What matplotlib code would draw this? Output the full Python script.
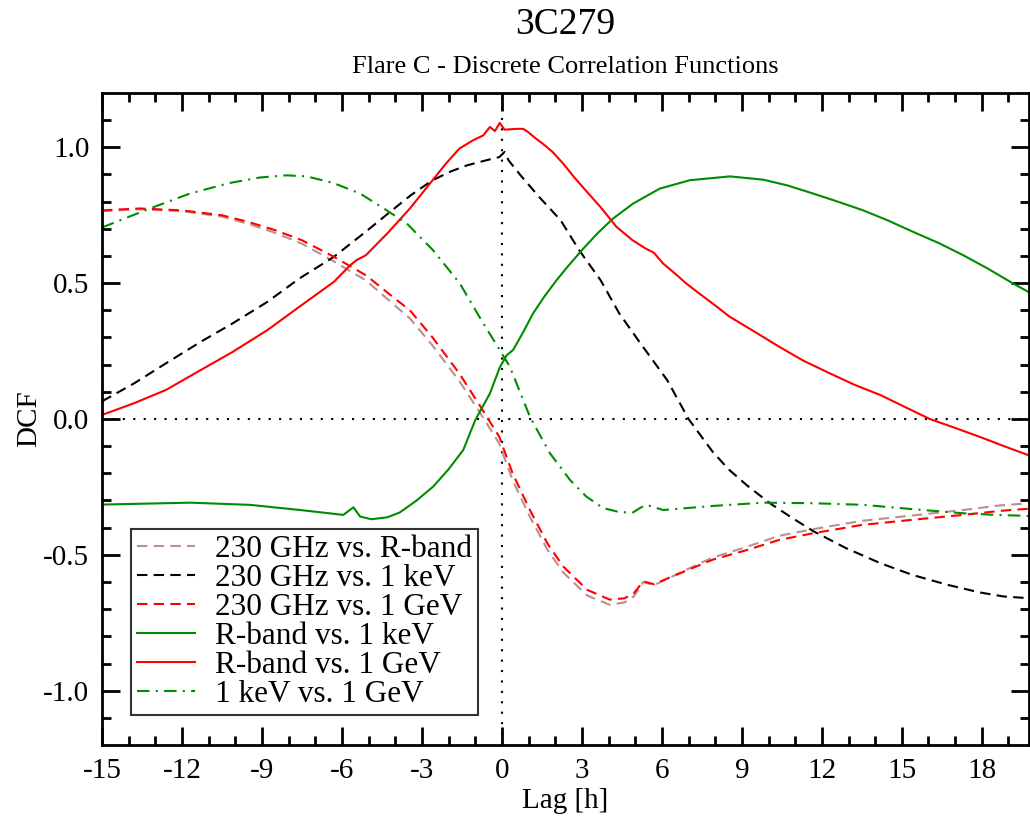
import matplotlib
matplotlib.use("Agg")
import matplotlib.pyplot as plt

plt.rcParams['font.family'] = ['Liberation Serif', 'DejaVu Serif']

# 230 GHz vs. R-band
x_mm_r = [-15, -13.6, -12, -10.5, -9.5, -8.5, -7.5, -6.3, -5.1, -4.1, -3.45, -2.6, -1.6, -0.8, -0.1,
          0.4, 1.05, 1.7, 2.3, 3.2, 4.05, 4.6, 4.95, 5.3, 5.7, 6.7, 7.9, 9.2, 10.4, 11.7, 13.5,
          15.4, 17.3, 18.7, 19.8]
y_mm_r = [0.765, 0.772, 0.765, 0.745, 0.718, 0.685, 0.645, 0.58, 0.51, 0.425, 0.37, 0.27, 0.14, 0.02,
          -0.09, -0.225, -0.36, -0.48, -0.565, -0.65, -0.684, -0.675, -0.653, -0.6, -0.612, -0.565,
          -0.51, -0.47, -0.43, -0.405, -0.375, -0.355, -0.335, -0.318, -0.31]

# 230 GHz vs. 1 keV
x_mm_x = [-15, -13.8, -12.6, -11.3, -10.1, -8.8, -7.6, -6.3, -5.1, -4.2, -3.4, -2.6, -1.9, -1.3, -0.6,
          -0.1, 0.1, 0.25, 0.7, 1.4, 2.2, 2.9, 3.7, 4.4, 5.2, 6.2, 7.0, 7.9, 8.5, 9.2, 10.05, 10.9,
          11.7, 12.9, 14.2, 15.4, 16.7, 17.9, 18.8, 19.8]
y_mm_x = [0.065, 0.131, 0.205, 0.284, 0.352, 0.431, 0.517, 0.597, 0.69, 0.762, 0.825, 0.879, 0.912,
          0.934, 0.952, 0.964, 0.983, 0.952, 0.897, 0.817, 0.732, 0.621, 0.511, 0.389, 0.278, 0.143,
          0.0, -0.12, -0.185, -0.245, -0.31, -0.365, -0.414, -0.475, -0.531, -0.574, -0.61, -0.638,
          -0.653, -0.66]

# 230 GHz vs. 1 GeV
x_mm_g = x_mm_r
y_mm_g = [0.768, 0.775, 0.768, 0.75, 0.725, 0.695, 0.658, 0.597, 0.529, 0.45, 0.40, 0.30, 0.168, 0.045,
          -0.065, -0.2, -0.335, -0.457, -0.543, -0.629, -0.665, -0.66, -0.641, -0.598, -0.608, -0.567,
          -0.518, -0.482, -0.445, -0.42, -0.39, -0.371, -0.353, -0.338, -0.33]

# R-band vs. 1 keV
x_r_x = [-15, -11.7, -9.45, -7.57, -5.95, -5.57, -5.32, -4.9, -4.3, -3.83, -3.2, -2.58, -2.0, -1.45,
         -1.0, -0.45, -0.08, 0.18, 0.42, 0.8, 1.17, 1.6, 2.05, 2.5, 3.05, 3.6, 4.17, 4.92, 5.92, 7.05,
         8.55, 9.8, 10.7, 11.67, 12.6, 13.55, 14.5, 15.42, 16.4, 17.3, 18.2, 19.17, 19.8]
y_r_x = [-0.315, -0.308, -0.316, -0.335, -0.353, -0.325, -0.359, -0.369, -0.362, -0.344, -0.3, -0.249,
         -0.185, -0.114, -0.004, 0.094, 0.19, 0.235, 0.254, 0.32, 0.389, 0.452, 0.511, 0.565, 0.627,
         0.685, 0.738, 0.793, 0.848, 0.879, 0.893, 0.881, 0.86, 0.83, 0.8, 0.768, 0.73, 0.689, 0.647,
         0.603, 0.555, 0.499, 0.465]

# R-band vs. 1 GeV
x_r_g = [-15, -13.8, -12.6, -11.3, -10.1, -8.8, -7.6, -6.3, -5.7, -5.45, -5.1, -4.3, -3.45, -2.6, -2.1,
         -1.6, -1.1, -0.7, -0.45, -0.26, -0.08, 0.1, 0.55, 0.8, 1.0, 1.2, 1.55, 1.9, 2.3, 2.7, 3.2, 3.7,
         4.3, 4.9, 5.4, 5.7, 6.05, 6.5, 6.9, 7.4, 8.0, 8.55, 9.5, 10.4, 11.3, 12.3, 13.2, 14.2, 15.1,
         16.05, 17.0, 17.9, 19.05, 19.8]
y_r_g = [0.015, 0.058, 0.107, 0.18, 0.247, 0.327, 0.413, 0.505, 0.565, 0.585, 0.603, 0.683, 0.775,
         0.879, 0.94, 0.995, 1.025, 1.044, 1.075, 1.06, 1.09, 1.065, 1.068, 1.068, 1.055, 1.038, 1.012,
         0.983, 0.94, 0.891, 0.835, 0.78, 0.707, 0.658, 0.627, 0.612, 0.572, 0.535, 0.5, 0.462, 0.418,
         0.376, 0.32, 0.266, 0.215, 0.168, 0.127, 0.088, 0.045, 0.0, -0.033, -0.065, -0.108, -0.135]

# 1 keV vs. 1 GeV
x_x_g = [-15, -13.2, -11.7, -10.2, -9.07, -8.07, -7.32, -6.33, -5.32, -4.32, -3.57, -2.58, -1.58, -0.7,
         -0.08, 0.3, 0.8, 1.05, 1.8, 2.55, 3.17, 3.8, 4.42, 4.92, 5.17, 5.42, 6.05, 7.92, 9.8, 11.67,
         13.55, 15.42, 17.3, 18.55, 19.8]
y_x_g = [0.705, 0.775, 0.83, 0.869, 0.889, 0.897, 0.893, 0.869, 0.83, 0.768, 0.72, 0.621, 0.499, 0.352,
         0.254, 0.192, 0.07, 0.008, -0.126, -0.224, -0.286, -0.328, -0.343, -0.344, -0.328, -0.316,
         -0.335, -0.32, -0.308, -0.31, -0.316, -0.332, -0.347, -0.353, -0.357]

green = '#008c00'

fig = plt.figure(figsize=(10.3, 8.16), dpi=100)
ax = fig.add_axes([102/1030, 1-745/816, 927/1030, 652/816])

ax.axhline(0, color='black', lw=1.5, ls=(0, (1, 4)))
ax.axvline(0, color='black', lw=1.5, ls=(0, (1, 4)))

lw = 1.5
ax.plot(x_mm_r, y_mm_r, color='#bc8f8f', lw=lw, dashes=(5, 3), label='230 GHz vs. R-band')
ax.plot(x_mm_x, y_mm_x, color='black', lw=lw, dashes=(5, 3), label='230 GHz vs. 1 keV')
ax.plot(x_mm_g, y_mm_g, color='red', lw=lw, dashes=(5, 3), label='230 GHz vs. 1 GeV')
ax.plot(x_r_x, y_r_x, color=green, lw=lw, label='R-band vs. 1 keV')
ax.plot(x_r_g, y_r_g, color='red', lw=lw, label='R-band vs. 1 GeV')
ax.plot(x_x_g, y_x_g, color=green, lw=lw, dashes=(6, 3, 1, 3), label='1 keV vs. 1 GeV')

ax.set_xlim(-15, 19.77)
ax.set_ylim(-1.2, 1.2)
ax.set_xticks(range(-15, 19, 3))
ax.set_xticks(range(-15, 20), minor=True)
ax.set_yticks([-1.0, -0.5, 0.0, 0.5, 1.0])
ax.set_yticks([i / 10 for i in range(-11, 12)], minor=True)
ax.set_yticklabels(['-1.0', '-0.5', '0.0', '0.5', '1.0'])
ax.set_xticklabels([str(v) for v in range(-15, 19, 3)])
ax.tick_params(which='both', direction='in', top=True, right=True, width=2, labelsize=21, pad=9)
ax.tick_params(which='major', length=13)
ax.tick_params(which='minor', length=6.5)
for s in ax.spines.values():
    s.set_linewidth(2)

ax.set_xlabel('Lag [h]', fontsize=21, labelpad=3)
ax.set_ylabel('DCF', fontsize=21, labelpad=1)

xc = (102 + 1029) / 2 / 1030
fig.text(xc, 1-25/816, '3C279', ha='center', va='center', fontsize=27)
fig.text(xc, 1-67/816, 'Flare C - Discrete Correlation Functions', ha='center', va='center', fontsize=19)

leg = ax.legend(loc='lower left', bbox_to_anchor=(0.031, 0.046), borderaxespad=0, fontsize=22.5,
                fancybox=False, handlelength=1.85, handletextpad=0.65, labelspacing=0.0,
                borderpad=0.2, framealpha=1)
leg.get_frame().set_edgecolor('#333333')
leg.get_frame().set_linewidth(1.5)

fig.savefig('out.png', dpi=100)
